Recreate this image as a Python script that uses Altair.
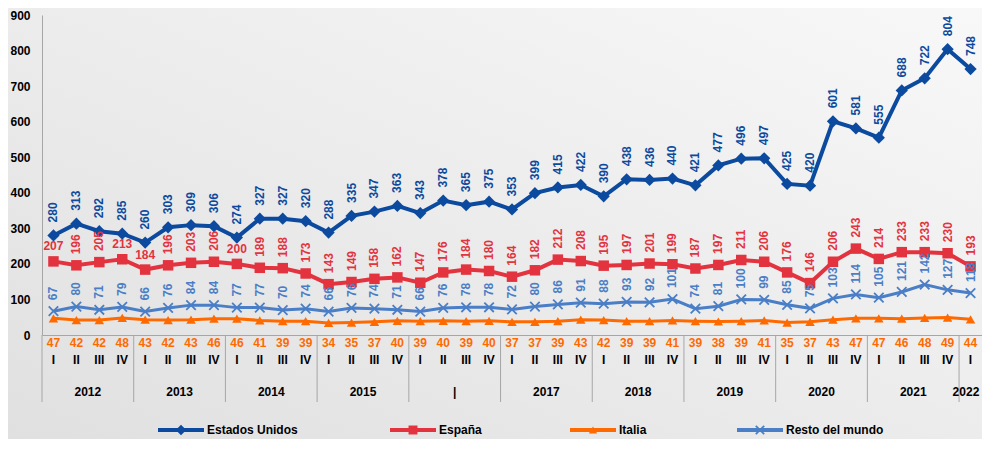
import altair as alt
import pandas as pd

# ---------------- data ----------------
years = ["2012", "2013", "2014", "2015", "|", "2017", "2018", "2019", "2020", "2021", "2022"]
quarters = ["I", "II", "III", "IV"]

estados_unidos = [280, 313, 292, 285, 260, 303, 309, 306, 274, 327, 327, 320,
                  288, 335, 347, 363, 343, 378, 365, 375, 353, 399, 415, 422,
                  390, 438, 436, 440, 421, 477, 496, 497, 425, 420, 601, 581,
                  555, 688, 722, 804, 748]
espana = [207, 196, 205, 213, 184, 196, 203, 206, 200, 189, 188, 173,
          143, 149, 158, 162, 147, 176, 184, 180, 164, 182, 212, 208,
          195, 197, 201, 199, 187, 197, 211, 206, 176, 146, 206, 243,
          214, 233, 233, 230, 193]
italia = [47, 42, 42, 48, 43, 42, 43, 46, 46, 41, 39, 39,
          34, 35, 37, 40, 39, 40, 39, 40, 37, 37, 39, 43,
          42, 39, 39, 41, 39, 38, 39, 41, 35, 37, 43, 47,
          47, 46, 48, 49, 44]
resto = [67, 80, 71, 79, 66, 76, 84, 84, 77, 77, 70, 74,
         66, 76, 74, 71, 66, 76, 78, 78, 72, 80, 86, 91,
         88, 93, 92, 101, 74, 81, 100, 99, 85, 75, 103, 114,
         105, 121, 142, 127, 118]

series_names = ["Estados Unidos", "España", "Italia", "Resto del mundo"]
series_values = [estados_unidos, espana, italia, resto]

# ---------------- styling / layout ----------------
colors = {"Estados Unidos": "#0b4a9e", "España": "#e2333f",
          "Italia": "#ff6a00", "Resto del mundo": "#4a7ec6"}
FONT = "Liberation Sans"
W, H = 940, 320
espana_horizontal = [0, 3, 4, 8]   # labels Excel drew horizontally
X_SHAPE = "M-1,-1L1,1M-1,1L1,-1"

n = len(estados_unidos)
rows = []
for name, vals in zip(series_names, series_values):
    for i, v in enumerate(vals):
        rows.append({"idx": i, "serie": name, "valor": v})
df = pd.DataFrame(rows)

qdf = pd.DataFrame({"idx": list(range(n)),
                    "q": [quarters[i % 4] for i in range(n)]})
ydf = pd.DataFrame({"year": years,
                    "center": [min(4 * k + 1.5, n - 1.2) for k in range(len(years))],
                    "start": [4 * k - 0.5 for k in range(len(years))]})

xscale = alt.Scale(domain=[-0.5, n - 0.5], nice=False, zero=False)
xaxis = alt.Axis(labels=False, ticks=False, grid=False, title=None,
                 domainColor="#a6a6a6", domainWidth=1, zindex=1)
yscale = alt.Scale(domain=[0, 900], nice=False)
yaxis = alt.Axis(values=list(range(0, 1000, 100)), ticks=False, grid=False, title=None,
                 labelFont=FONT, labelFontSize=12, labelFontWeight="bold",
                 labelColor="#000000", labelPadding=12, domainColor="#a6a6a6", zindex=1)

X = alt.X("idx:Q", scale=xscale, axis=xaxis)
Y = alt.Y("valor:Q", scale=yscale, axis=yaxis)

layers = []

# background gradient
bg = alt.Chart(alt.Data(values=[{}])).mark_rect(
    fill=alt.LinearGradient(gradient="linear", x1=0, y1=1, x2=1, y2=0,
                            stops=[alt.GradientStop(color="#e0e0e0", offset=0),
                                   alt.GradientStop(color="#f8f8f8", offset=1)])
).encode(x=alt.value(-34), x2=alt.value(W), y=alt.value(-7), y2=alt.value(H + 104))
layers.append(bg)

# separators of year groups
sep = alt.Chart(ydf).mark_rule(color="#a6a6a6", strokeWidth=1).encode(
    x=alt.X("start:Q", scale=xscale, axis=xaxis), y=alt.value(H), y2=alt.value(H + 67))
layers.append(sep)

line_w = {"Estados Unidos": 4, "España": 4, "Italia": 3, "Resto del mundo": 3}
for name in series_names:
    sub = df[df.serie == name]
    c = colors[name]
    base = alt.Chart(sub)
    layers.append(base.mark_line(color=c, strokeWidth=line_w[name]).encode(x=X, y=Y))
    if name == "Estados Unidos":
        pt = base.mark_point(shape="diamond", filled=True, size=150, color=c, opacity=1)
    elif name == "España":
        pt = base.mark_point(shape="square", filled=True, size=110, color=c, opacity=1)
    elif name == "Italia":
        pt = base.mark_point(shape="triangle-up", filled=True, size=90, color=c, opacity=1)
    else:
        pt = base.mark_point(shape=X_SHAPE, filled=False, size=90, color=c,
                             strokeWidth=1.8, opacity=1)
    layers.append(pt.encode(x=X, y=Y))

# data labels
def vlabel(data, color, off):
    return alt.Chart(data).mark_text(
        angle=270, align="left", baseline="middle", yOffset=-off,
        font=FONT, fontSize=12, fontWeight="bold", color=color
    ).encode(x=X, y=Y, text="valor:Q")

us = df[df.serie == "Estados Unidos"]
es = df[df.serie == "España"]
it = df[df.serie == "Italia"]
rm = df[df.serie == "Resto del mundo"]

layers.append(vlabel(us, colors["Estados Unidos"], 13))
layers.append(vlabel(es[~es.idx.isin(espana_horizontal)], colors["España"], 11))
layers.append(alt.Chart(es[es.idx.isin(espana_horizontal)]).mark_text(
    align="center", baseline="middle", yOffset=-15,
    font=FONT, fontSize=12, fontWeight="bold", color=colors["España"]
).encode(x=X, y=Y, text="valor:Q"))
layers.append(vlabel(rm, colors["Resto del mundo"], 11))
layers.append(alt.Chart(it).mark_text(
    align="center", baseline="middle",
    font=FONT, fontSize=12, fontWeight="bold", color=colors["Italia"]
).encode(x=X, y=alt.value(H + 8), text="valor:Q"))

# quarter and year labels
layers.append(alt.Chart(qdf).mark_text(
    align="center", baseline="middle", font=FONT, fontSize=12, fontWeight="bold", color="#000000"
).encode(x=alt.X("idx:Q", scale=xscale, axis=xaxis), y=alt.value(H + 25), text="q:N"))
layers.append(alt.Chart(ydf).mark_text(
    align="center", baseline="middle", font=FONT, fontSize=12, fontWeight="bold", color="#000000"
).encode(x=alt.X("center:Q", scale=xscale, axis=xaxis), y=alt.value(H + 57), text="year:N"))

# custom legend
LY = H + 95
legend_x = {"Estados Unidos": 116, "España": 348, "Italia": 528, "Resto del mundo": 695}
shapes = {"Estados Unidos": ("diamond", True, 110), "España": ("square", True, 80),
          "Italia": ("triangle-up", True, 70), "Resto del mundo": (X_SHAPE, False, 70)}
for name in series_names:
    a = legend_x[name]
    c = colors[name]
    one = alt.Chart(alt.Data(values=[{}]))
    layers.append(one.mark_rule(color=c, strokeWidth=4).encode(
        x=alt.value(a), x2=alt.value(a + 46), y=alt.value(LY)))
    shp, filled, sz = shapes[name]
    layers.append(one.mark_point(shape=shp, filled=filled, size=sz, color=c, opacity=1,
                                 strokeWidth=1.8).encode(x=alt.value(a + 23), y=alt.value(LY)))
    layers.append(one.mark_text(align="left", baseline="middle", font=FONT, fontSize=12,
                                fontWeight="bold", color="#000000").encode(
        x=alt.value(a + 49), y=alt.value(LY), text=alt.value(name)))

chart = alt.layer(*layers).properties(
    width=W, height=H,
    autosize=alt.AutoSizeParams(type="none"),
    padding={"left": 34, "top": 7, "right": 0, "bottom": 104},
    background="#efefef",
).configure_view(stroke=None)

chart.save("out.html", embed_options={"renderer": "svg", "actions": False})
